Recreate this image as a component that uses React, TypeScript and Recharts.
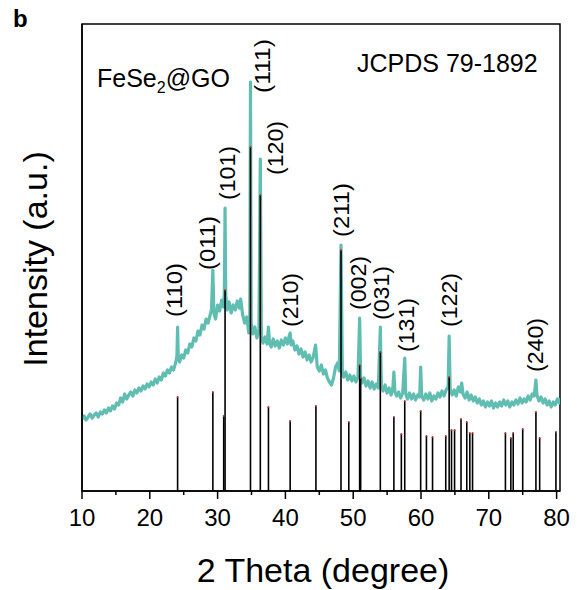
import { ComposedChart, Line, XAxis, YAxis, ReferenceLine, ReferenceDot, ReferenceArea } from "recharts";

const FONT = '"Liberation Sans", Arial, sans-serif';
const TEAL = "#5fbdb1";

// measured scan: [2theta, intensity]
const SCAN: [number, number][] = [
  [10.0, 72], [10.3, 75], [10.6, 71], [10.9, 74], [11.2, 77], [11.5, 73], [11.8, 76], [12.1, 78],
  [12.4, 74], [12.7, 79], [13.0, 77], [13.3, 81], [13.6, 78], [13.9, 83], [14.2, 80], [14.5, 85],
  [14.8, 82], [15.1, 88], [15.4, 86], [15.7, 93], [16.0, 89], [16.3, 97], [16.6, 92], [16.9, 96],
  [17.2, 99], [17.5, 95], [17.8, 101], [18.1, 98], [18.4, 103], [18.7, 100], [19.0, 105], [19.3, 102],
  [19.6, 107], [19.9, 104], [20.2, 109], [20.5, 106], [20.8, 112], [21.1, 108], [21.4, 114], [21.7, 111],
  [22.0, 118], [22.3, 115], [22.6, 121], [22.9, 118], [23.2, 124], [23.5, 121], [23.8, 128], [24.0, 135],
  [24.1, 164], [24.2, 133], [24.4, 129], [24.7, 136], [25.0, 133], [25.3, 141], [25.6, 138], [25.9, 147],
  [26.2, 144], [26.5, 153], [26.8, 150], [27.1, 160], [27.4, 156], [27.7, 166], [28.0, 162], [28.3, 172],
  [28.6, 168], [28.9, 176], [29.1, 182], [29.3, 221], [29.45, 178], [29.7, 172], [30.0, 186], [30.3, 180],
  [30.6, 191], [30.9, 184], [31.0, 200], [31.1, 283], [31.2, 196], [31.4, 181], [31.7, 189], [32.0, 178],
  [32.3, 186], [32.6, 181], [32.9, 190], [33.2, 183], [33.4, 192], [33.7, 176], [34.0, 168], [34.3, 174],
  [34.6, 158], [34.75, 170], [34.85, 409], [34.95, 168], [35.2, 157], [35.5, 164], [35.8, 153], [36.1, 162],
  [36.3, 332], [36.45, 155], [36.7, 148], [37.0, 154], [37.3, 147], [37.5, 164], [37.65, 149], [37.9, 144],
  [38.2, 152], [38.5, 145], [38.8, 150], [39.1, 143], [39.4, 151], [39.7, 146], [40.0, 153], [40.3, 147],
  [40.55, 155], [40.7, 158], [40.85, 146], [41.1, 150], [41.4, 141], [41.7, 145], [42.0, 137], [42.3, 142],
  [42.6, 134], [42.9, 139], [43.2, 131], [43.5, 136], [43.8, 129], [44.1, 134], [44.45, 146], [44.7, 124],
  [45.0, 120], [45.3, 126], [45.6, 117], [45.9, 121], [46.2, 113], [46.5, 109], [46.8, 106], [47.1, 113],
  [47.4, 124], [47.7, 128], [47.95, 120], [48.2, 246], [48.4, 117], [48.6, 114], [48.9, 119], [49.2, 111],
  [49.5, 116], [49.8, 110], [50.1, 115], [50.4, 109], [50.7, 114], [50.95, 173], [51.1, 112], [51.3, 108],
  [51.6, 113], [51.9, 105], [52.2, 110], [52.5, 103], [52.8, 109], [53.1, 102], [53.4, 107], [53.7, 103],
  [54.0, 164], [54.15, 105], [54.4, 100], [54.7, 106], [55.0, 98], [55.3, 103], [55.6, 96], [55.85, 104],
  [56.0, 119], [56.15, 99], [56.4, 95], [56.7, 99], [57.0, 93], [57.3, 98], [57.6, 133], [57.75, 97],
  [58.0, 92], [58.3, 98], [58.6, 92], [58.9, 97], [59.2, 91], [59.5, 96], [59.8, 94], [59.95, 124],
  [60.1, 95], [60.4, 91], [60.7, 97], [61.0, 92], [61.3, 98], [61.6, 90], [61.9, 95], [62.2, 92],
  [62.5, 98], [62.8, 94], [63.1, 100], [63.4, 95], [63.7, 101], [64.0, 104], [64.15, 155], [64.3, 102],
  [64.6, 96], [64.9, 101], [65.2, 95], [65.5, 104], [65.8, 99], [66.0, 108], [66.2, 97], [66.5, 93],
  [66.8, 99], [67.1, 91], [67.4, 96], [67.7, 90], [68.0, 94], [68.3, 88], [68.6, 92], [68.9, 86],
  [69.2, 90], [69.5, 84], [69.8, 89], [70.1, 85], [70.4, 90], [70.7, 83], [71.0, 88], [71.3, 84],
  [71.6, 89], [71.9, 85], [72.2, 91], [72.5, 86], [72.8, 90], [73.1, 84], [73.4, 89], [73.7, 86],
  [74.0, 91], [74.3, 87], [74.6, 93], [74.9, 88], [75.2, 92], [75.5, 89], [75.8, 95], [76.1, 91],
  [76.4, 97], [76.7, 95], [76.95, 111], [77.1, 96], [77.4, 90], [77.7, 94], [78.0, 88], [78.3, 92],
  [78.6, 86], [78.9, 90], [79.2, 84], [79.5, 89], [79.8, 86], [80.1, 92], [80.4, 88], [80.5, 93],
];

// JCPDS 79-1892 reference lines
const REF_POS = [24.1, 29.3, 30.9, 31.1, 34.85, 36.3, 37.5, 40.7, 44.5, 48.2, 49.35, 50.95, 51.1, 54.0,
  56.0, 57.1, 57.6, 59.95, 60.8, 61.7, 63.65, 64.15, 64.5, 64.95, 65.9, 66.75, 67.2, 67.6, 72.45, 73.25,
  73.6, 75.0, 76.95, 77.5, 79.9];
const REF_INT = [94, 99, 75, 201, 344, 296, 84, 70, 85, 241, 69, 126, 113, 139, 74, 57, 90, 80, 55, 54,
  55, 114, 61, 61, 72, 69, 58, 58, 58, 53, 58, 62, 79, 53, 59];

const HKL = ["(110)", "(011)", "(101)", "(111)", "(120)", "(210)", "(211)", "(002)", "(031)", "(131)", "(122)", "(240)"];
const HKL_POS = [23.71, 28.45, 31.4, 36.58, 38.5, 40.72, 48.27, 50.78, 54.19, 57.87, 64.24, 76.96];
const HKL_INT = [201, 248, 318, 425, 343, 191, 281, 208, 198, 166, 191, 146];

const X_TICKS = [10, 15, 20, 25, 30, 35, 40, 45, 50, 55, 60, 65, 70, 75, 80];

const data = SCAN.map(([t, i]) => ({ t, i }));

function XTick({ x, y, payload }: any) {
  const major = payload.value % 10 === 0;
  return (
    <g>
      <line x1={x} x2={x} y1={y} y2={y + (major ? 8 : 4)} stroke="#000" strokeWidth={1.5} />
      {major && (
        <text x={x} y={y + 35} textAnchor="middle" fontSize={24} fontFamily={FONT} fill="#000">
          {payload.value}
        </text>
      )}
    </g>
  );
}

function hklLabel(text: string) {
  return (p: any) => (
    <text
      x={p.cx}
      y={p.cy}
      transform={`rotate(-90 ${p.cx} ${p.cy})`}
      textAnchor="middle"
      dominantBaseline="central"
      fontSize={22}
      fontFamily={FONT}
      textLength={54}
      lengthAdjust="spacingAndGlyphs"
      fill="#000"
    >
      {text}
    </text>
  );
}

export default function App() {
  return (
    <div style={{ position: "absolute", left: 0, top: 0, width: 582, height: 590, background: "#fff" }}>
      <ComposedChart width={582} height={590} data={data} margin={{ top: 24, right: 22, left: 0, bottom: 0 }}>
        <XAxis
          dataKey="t"
          type="number"
          domain={[10, 80.5]}
          ticks={X_TICKS}
          interval={0}
          tick={<XTick />}
          tickSize={0}
          tickMargin={0}
          tickLine={false}
          height={99}
          axisLine={{ stroke: "#000", strokeWidth: 1.5 }}
          allowDataOverflow
          label={{
            content: () => (
              <text x={323} y={582} textAnchor="middle" fontSize={34} fontFamily={FONT} fill="#000">
                2 Theta (degree)
              </text>
            ),
          }}
        />
        <YAxis
          type="number"
          domain={[0, 467]}
          width={82}
          tick={false}
          tickLine={false}
          axisLine={{ stroke: "#000", strokeWidth: 1.5 }}
          allowDataOverflow
          label={{
            content: () => (
              <text
                x={35}
                y={259}
                transform="rotate(-90 35 259)"
                textAnchor="middle"
                dominantBaseline="central"
                fontSize={34}
                fontFamily={FONT}
                fill="#000"
              >
                Intensity (a.u.)
              </text>
            ),
          }}
        />
        <ReferenceArea x1={10} x2={80.5} y1={0} y2={467} fill="none" stroke="#000" strokeWidth={1.5} />
        <Line
          dataKey="i"
          type="linear"
          stroke={TEAL}
          strokeWidth={3.2}
          strokeLinejoin="round"
          dot={false}
          isAnimationActive={false}
        />
        {REF_POS.map((t, k) => (
          <ReferenceLine
            key={"r" + k}
            segment={[{ x: t, y: 0 }, { x: t, y: REF_INT[k] }]}
            stroke="#000"
            strokeWidth={1.6}
          />
        ))}
        {REF_POS.map((t, k) => (
          <ReferenceDot key={"d" + k} x={t} y={REF_INT[k]} r={1} fill="#c0302a" stroke="none" />
        ))}
        {HKL.map((h, k) => (
          <ReferenceDot key={h} x={HKL_POS[k]} y={HKL_INT[k]} r={0} shape={hklLabel(h)} />
        ))}
      </ComposedChart>
      <svg width={582} height={100} style={{ position: "absolute", left: 0, top: 0 }}>
        <text x={13} y={27} fontSize={24} fontWeight="bold" fontFamily={FONT}>b</text>
        <text x={97} y={87} fontSize={25} fontFamily={FONT}>
          FeSe<tspan fontSize={16} dy={6}>2</tspan><tspan dy={-6}>@GO</tspan>
        </text>
        <text x={357} y={72} fontSize={25} fontFamily={FONT}>JCPDS 79-1892</text>
      </svg>
    </div>
  );
}
